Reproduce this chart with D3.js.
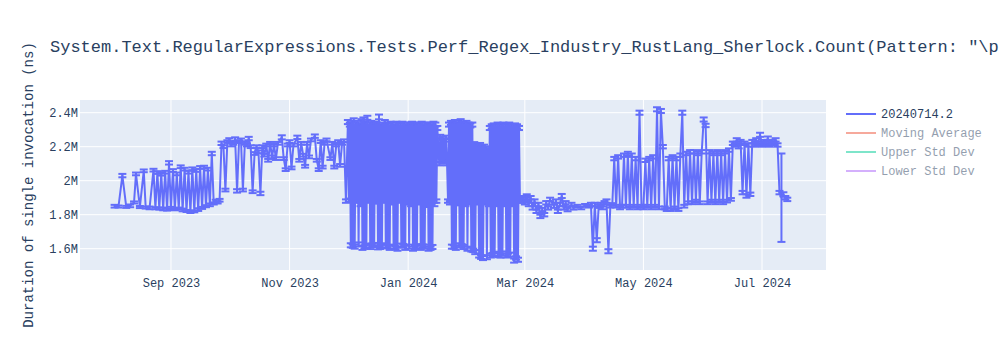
<!DOCTYPE html>
<html>
<head>
<meta charset="utf-8">
<title>Perf_Regex_Industry_RustLang_Sherlock</title>
<script src="https://d3js.org/d3.v7.min.js"></script>
<style>
  body { margin: 0; background: #fff; }
  text { font-family: "Courier New", "Liberation Mono", monospace; }
</style>
</head>
<body>
<div id="canvas"></div>
<script>
// run dates (one per benchmark run; Dec-Feb had two runs a day)
var dates = [
  // Aug 2023
  "2023-08-03","2023-08-05","2023-08-07","2023-08-09","2023-08-11","2023-08-13","2023-08-14","2023-08-16","2023-08-18","2023-08-19",
  "2023-08-21","2023-08-23","2023-08-24","2023-08-25","2023-08-26","2023-08-27","2023-08-28","2023-08-29","2023-08-30","2023-08-31",
  // Sep 2023
  "2023-09-01","2023-09-02","2023-09-03","2023-09-04","2023-09-05","2023-09-06","2023-09-07","2023-09-08","2023-09-09","2023-09-10",
  "2023-09-11","2023-09-12","2023-09-13","2023-09-14","2023-09-15","2023-09-16","2023-09-17","2023-09-18","2023-09-19","2023-09-20",
  "2023-09-21","2023-09-22","2023-09-23","2023-09-24","2023-09-25","2023-09-26","2023-09-27","2023-09-28","2023-09-29","2023-09-30",
  // Oct 2023
  "2023-10-01","2023-10-02","2023-10-03","2023-10-04","2023-10-05","2023-10-06","2023-10-07","2023-10-08","2023-10-09","2023-10-10",
  "2023-10-11","2023-10-12","2023-10-13","2023-10-14","2023-10-15","2023-10-16","2023-10-17","2023-10-18","2023-10-19","2023-10-20",
  "2023-10-21","2023-10-22","2023-10-23","2023-10-24","2023-10-25","2023-10-26","2023-10-28","2023-10-29","2023-10-30","2023-10-31",
  // Nov 2023
  "2023-11-01","2023-11-02","2023-11-03","2023-11-05","2023-11-06","2023-11-07","2023-11-08","2023-11-09","2023-11-10","2023-11-11",
  "2023-11-12","2023-11-14","2023-11-15","2023-11-16","2023-11-17","2023-11-18","2023-11-19","2023-11-20","2023-11-22","2023-11-23",
  "2023-11-24","2023-11-25","2023-11-26","2023-11-27","2023-11-28","2023-11-29","2023-11-30",
  // Dec 2023
  "2023-12-01 00","2023-12-01 12","2023-12-02 00","2023-12-02 12","2023-12-03 00","2023-12-03 12","2023-12-04 00","2023-12-04 12","2023-12-05 00","2023-12-05 12",
  "2023-12-06 00","2023-12-06 12","2023-12-07 00","2023-12-07 12","2023-12-08 00","2023-12-08 12","2023-12-09 00","2023-12-09 12","2023-12-10 00","2023-12-10 12",
  "2023-12-11 00","2023-12-11 12","2023-12-12 00","2023-12-12 12","2023-12-13 00","2023-12-13 12","2023-12-14 00","2023-12-14 12","2023-12-15 00","2023-12-15 12",
  "2023-12-16 00","2023-12-16 12","2023-12-17 00","2023-12-17 12","2023-12-18 00","2023-12-18 12","2023-12-19 00","2023-12-19 12","2023-12-20 00","2023-12-20 12",
  "2023-12-21 00","2023-12-21 12","2023-12-22 00","2023-12-22 12","2023-12-23 00","2023-12-23 12","2023-12-24 00","2023-12-24 12","2023-12-25 00","2023-12-25 12",
  "2023-12-26 00","2023-12-26 12","2023-12-27 00","2023-12-27 12","2023-12-28 00","2023-12-28 12","2023-12-29 00","2023-12-29 12","2023-12-30 00","2023-12-30 12",
  "2023-12-31 00","2023-12-31 12",
  // Jan 2024
  "2024-01-01 00","2024-01-01 12","2024-01-02 00","2024-01-02 12","2024-01-03 00","2024-01-03 12","2024-01-04 00","2024-01-04 12","2024-01-05 00","2024-01-05 12",
  "2024-01-06 00","2024-01-06 12","2024-01-07 00","2024-01-07 12","2024-01-08 00","2024-01-08 12","2024-01-09 00","2024-01-09 12","2024-01-10 00","2024-01-10 12",
  "2024-01-11 00","2024-01-11 12","2024-01-12 00","2024-01-12 12","2024-01-13 00","2024-01-13 12","2024-01-14 00","2024-01-14 12","2024-01-15 00","2024-01-15 12",
  "2024-01-16 00","2024-01-16 12","2024-01-17 00","2024-01-17 12","2024-01-18 00","2024-01-18 12","2024-01-19 00","2024-01-19 12","2024-01-20 00","2024-01-20 12",
  "2024-01-21 00","2024-01-21 12","2024-01-22 00","2024-01-22 12","2024-01-23 00","2024-01-23 12","2024-01-24 00","2024-01-24 12","2024-01-25 00","2024-01-25 12",
  "2024-01-26 00","2024-01-26 12","2024-01-27 00","2024-01-27 12","2024-01-28 00","2024-01-28 12","2024-01-29 00","2024-01-29 12","2024-01-30 00","2024-01-30 12",
  "2024-01-31 00","2024-01-31 12",
  // Feb 2024
  "2024-02-01 00","2024-02-01 12","2024-02-02 00","2024-02-02 12","2024-02-03 00","2024-02-03 12","2024-02-04 00","2024-02-04 12","2024-02-05 00","2024-02-05 12",
  "2024-02-06 00","2024-02-06 12","2024-02-07 00","2024-02-07 12","2024-02-08 00","2024-02-08 12","2024-02-09 00","2024-02-09 12","2024-02-10 00","2024-02-10 12",
  "2024-02-11 00","2024-02-11 12","2024-02-12 00","2024-02-12 12","2024-02-13 00","2024-02-13 12","2024-02-14 00","2024-02-14 12","2024-02-15 00","2024-02-15 12",
  "2024-02-16 00","2024-02-16 12","2024-02-17 00","2024-02-17 12","2024-02-18 00","2024-02-18 12","2024-02-19 00","2024-02-19 12","2024-02-20 00","2024-02-20 12",
  "2024-02-21 00","2024-02-21 12","2024-02-22 00","2024-02-22 12","2024-02-23 00","2024-02-23 12","2024-02-24 00","2024-02-24 12","2024-02-25 00","2024-02-25 12",
  "2024-02-26 00","2024-02-26 12","2024-02-27 00","2024-02-27 12","2024-02-28 00","2024-02-28 12","2024-02-29",
  // Mar 2024
  "2024-03-01","2024-03-02","2024-03-03","2024-03-04","2024-03-05","2024-03-06","2024-03-07","2024-03-08","2024-03-09","2024-03-10",
  "2024-03-11","2024-03-12","2024-03-13","2024-03-14","2024-03-16","2024-03-17","2024-03-18","2024-03-19","2024-03-20","2024-03-21",
  "2024-03-22","2024-03-23","2024-03-25","2024-03-26","2024-03-28","2024-03-30",
  // Apr 2024
  "2024-04-01","2024-04-03","2024-04-04","2024-04-05","2024-04-06","2024-04-07","2024-04-08","2024-04-09","2024-04-10","2024-04-11",
  "2024-04-12","2024-04-13","2024-04-14","2024-04-15","2024-04-16","2024-04-17","2024-04-18","2024-04-19","2024-04-20","2024-04-21",
  "2024-04-22","2024-04-23","2024-04-24","2024-04-25","2024-04-26","2024-04-27","2024-04-28","2024-04-29","2024-04-30",
  // May 2024
  "2024-05-01","2024-05-02","2024-05-03","2024-05-04","2024-05-05","2024-05-06","2024-05-07","2024-05-08","2024-05-09","2024-05-10",
  "2024-05-11","2024-05-12","2024-05-13","2024-05-14","2024-05-15","2024-05-16","2024-05-17","2024-05-18","2024-05-19","2024-05-20",
  "2024-05-21","2024-05-22","2024-05-23","2024-05-24","2024-05-25","2024-05-26","2024-05-27","2024-05-28","2024-05-29","2024-05-30",
  "2024-05-31",
  // Jun 2024
  "2024-06-01","2024-06-02","2024-06-03","2024-06-04","2024-06-05","2024-06-06","2024-06-07","2024-06-08","2024-06-09","2024-06-10",
  "2024-06-11","2024-06-12","2024-06-13","2024-06-14","2024-06-15","2024-06-16","2024-06-17","2024-06-18","2024-06-19","2024-06-20",
  "2024-06-21","2024-06-22","2024-06-23","2024-06-24","2024-06-25","2024-06-26","2024-06-27","2024-06-28","2024-06-29","2024-06-30",
  // Jul 2024
  "2024-07-01","2024-07-02","2024-07-03","2024-07-04","2024-07-05","2024-07-06","2024-07-07","2024-07-08","2024-07-09","2024-07-10",
  "2024-07-11","2024-07-12","2024-07-13","2024-07-14"
];

// mean duration of a single invocation (ns)
var values = [
  // Aug 2023
  1850e3,1848e3,2030e3,1846e3,1852e3,1872e3,2040e3,1845e3,2058e3,1842e3,
  1840e3,2062e3,1838e3,2048e3,1836e3,2040e3,1834e3,2050e3,1830e3,2105e3,
  // Sep 2023
  1838e3,2060e3,1832e3,2040e3,1836e3,2082e3,1828e3,2068e3,1822e3,2050e3,
  1816e3,2070e3,1820e3,2060e3,1830e3,2078e3,1840e3,2080e3,1850e3,2068e3,
  1858e3,2160e3,1866e3,1880e3,1872e3,1885e3,2220e3,2200e3,1945e3,2230e3,
  // Oct 2023
  2240e3,2210e3,2220e3,2245e3,1940e3,2230e3,2240e3,1945e3,2220e3,2210e3,
  2248e3,2200e3,1935e3,2160e3,2200e3,2170e3,1925e3,2200e3,2150e3,2210e3,
  2120e3,2220e3,2140e3,2210e3,2130e3,2220e3,2255e3,2130e3,2065e3,2210e3,
  // Nov 2023
  2230e3,2075e3,2210e3,2255e3,2120e3,2220e3,2150e3,2085e3,2220e3,2140e3,
  2240e3,2262e3,2120e3,2065e3,2230e3,2080e3,2220e3,2240e3,2130e3,2220e3,
  2080e3,2210e3,2230e3,2090e3,2220e3,2235e3,1880e3,
  // Dec 2023
  2345e3,1885e3,2330e3,1620e3,2340e3,1615e3,2355e3,1612e3,2330e3,1880e3,
  2340e3,1625e3,2320e3,1860e3,2350e3,1605e3,2360e3,1610e3,2335e3,1618e3,
  2370e3,1880e3,2330e3,1610e3,2340e3,1620e3,2325e3,1622e3,2335e3,1875e3,
  2330e3,1608e3,2375e3,1608e3,2320e3,1615e3,2330e3,1880e3,2345e3,1620e3,
  2330e3,1612e3,2325e3,1605e3,2335e3,1870e3,2330e3,1612e3,2320e3,1605e3,
  2335e3,1600e3,2330e3,1880e3,2325e3,1618e3,2335e3,1618e3,2330e3,1605e3,
  2320e3,1870e3,
  // Jan 2024
  2330e3,1612e3,2325e3,1860e3,2335e3,1600e3,2320e3,1608e3,2330e3,1615e3,
  2325e3,1870e3,2330e3,1605e3,2335e3,1615e3,2320e3,1612e3,2330e3,1855e3,
  2325e3,1600e3,2330e3,1603e3,2320e3,1610e3,2335e3,1860e3,2330e3,1880e3,
  2310e3,2200e3,2100e3,2260e3,2120e3,2250e3,2110e3,2240e3,2130e3,2255e3,
  2100e3,1880e3,2330e3,1870e3,2340e3,1612e3,2335e3,1610e3,2345e3,1605e3,
  2330e3,1865e3,2340e3,1620e3,2350e3,1618e3,2335e3,1610e3,2330e3,1860e3,
  2340e3,1600e3,
  // Feb 2024
  2330e3,1870e3,2325e3,1595e3,2330e3,1590e3,2215e3,1580e3,2205e3,1870e3,
  2200e3,1560e3,2210e3,1550e3,2195e3,1545e3,2200e3,1870e3,2190e3,1550e3,
  2180e3,1860e3,2310e3,1560e3,2320e3,1565e3,2325e3,1570e3,2320e3,1860e3,
  2330e3,1562e3,2320e3,1558e3,2325e3,1572e3,2330e3,1860e3,2320e3,1560e3,
  2325e3,1562e3,2330e3,1565e3,2320e3,1860e3,2320e3,1530e3,2325e3,1545e3,
  2320e3,1535e3,2310e3,1880e3,1880e3,1895e3,1900e3,
  // Mar 2024
  1870e3,1910e3,1860e3,1900e3,1840e3,1880e3,1820e3,1860e3,1790e3,1830e3,
  1800e3,1870e3,1840e3,1890e3,1850e3,1880e3,1820e3,1860e3,1910e3,1840e3,
  1870e3,1830e3,1860e3,1840e3,1850e3,1840e3,
  // Apr 2024
  1855e3,1850e3,1860e3,1600e3,1860e3,1650e3,1850e3,1860e3,1840e3,1870e3,
  1880e3,1585e3,1850e3,1860e3,2130e3,1850e3,2140e3,1840e3,1850e3,2150e3,
  1850e3,2160e3,1840e3,2150e3,1850e3,2130e3,1840e3,2400e3,1850e3,
  // May 2024
  1840e3,2120e3,1850e3,2130e3,1840e3,2140e3,1850e3,2420e3,1840e3,2410e3,
  2200e3,1840e3,1830e3,2130e3,1830e3,2140e3,1840e3,2130e3,1830e3,2150e3,
  2400e3,1850e3,2160e3,1870e3,2170e3,1870e3,2170e3,1880e3,2160e3,1870e3,
  2170e3,
  // Jun 2024
  2360e3,2325e3,1870e3,2170e3,1880e3,2160e3,1870e3,2170e3,1880e3,2160e3,
  1870e3,2170e3,1880e3,2180e3,1890e3,2220e3,2210e3,2240e3,2200e3,2230e3,
  1930e3,2220e3,1910e3,2210e3,1920e3,2230e3,2210e3,2240e3,2220e3,2270e3,
  // Jul 2024
  2210e3,2230e3,2220e3,2250e3,2210e3,2230e3,2220e3,2240e3,2210e3,1930e3,
  1900e3,1920e3,1900e3,1890e3
];

// error bar half-length (ns)
var errors = [
  // Aug 2023
  8e3,6e3,10e3,6e3,8e3,6e3,8e3,6e3,8e3,6e3,
  8e3,8e3,6e3,8e3,6e3,10e3,8e3,8e3,6e3,10e3,
  // Sep 2023
  8e3,8e3,6e3,8e3,6e3,8e3,8e3,8e3,6e3,8e3,
  6e3,8e3,6e3,8e3,8e3,8e3,6e3,8e3,6e3,8e3,
  8e3,10e3,6e3,8e3,6e3,8e3,10e3,8e3,8e3,8e3,
  // Oct 2023
  10e3,8e3,8e3,10e3,10e3,8e3,8e3,8e3,8e3,8e3,
  10e3,8e3,8e3,8e3,8e3,8e3,10e3,8e3,8e3,8e3,
  8e3,8e3,8e3,8e3,8e3,8e3,12e3,8e3,8e3,8e3,
  // Nov 2023
  8e3,8e3,8e3,10e3,8e3,8e3,8e3,8e3,8e3,8e3,
  8e3,10e3,8e3,8e3,8e3,8e3,8e3,8e3,8e3,8e3,
  8e3,8e3,8e3,8e3,8e3,8e3,10e3,
  // Dec 2023
  12e3,10e3,12e3,12e3,12e3,10e3,12e3,12e3,12e3,10e3,
  12e3,12e3,12e3,10e3,12e3,12e3,12e3,10e3,12e3,12e3,
  12e3,10e3,12e3,12e3,12e3,10e3,12e3,12e3,12e3,10e3,
  12e3,12e3,14e3,10e3,12e3,12e3,12e3,10e3,12e3,12e3,
  12e3,10e3,12e3,12e3,12e3,10e3,12e3,12e3,12e3,10e3,
  12e3,12e3,12e3,10e3,12e3,12e3,12e3,10e3,12e3,12e3,
  12e3,10e3,
  // Jan 2024
  12e3,12e3,12e3,10e3,12e3,12e3,12e3,10e3,12e3,12e3,
  12e3,10e3,12e3,12e3,12e3,10e3,12e3,12e3,12e3,10e3,
  12e3,12e3,12e3,10e3,12e3,12e3,12e3,10e3,12e3,10e3,
  12e3,10e3,10e3,10e3,10e3,10e3,10e3,10e3,10e3,10e3,
  10e3,10e3,12e3,10e3,12e3,12e3,12e3,10e3,12e3,12e3,
  12e3,10e3,12e3,12e3,12e3,10e3,12e3,12e3,12e3,10e3,
  12e3,12e3,
  // Feb 2024
  12e3,10e3,12e3,12e3,12e3,10e3,12e3,12e3,12e3,10e3,
  12e3,12e3,12e3,10e3,12e3,12e3,12e3,10e3,12e3,12e3,
  12e3,10e3,12e3,12e3,12e3,10e3,12e3,12e3,12e3,10e3,
  12e3,12e3,12e3,10e3,12e3,12e3,12e3,10e3,12e3,12e3,
  12e3,10e3,12e3,12e3,12e3,10e3,12e3,12e3,12e3,10e3,
  12e3,12e3,12e3,10e3,10e3,10e3,10e3,
  // Mar 2024
  10e3,10e3,10e3,10e3,10e3,10e3,10e3,10e3,10e3,10e3,
  10e3,10e3,10e3,10e3,10e3,10e3,10e3,10e3,12e3,10e3,
  10e3,10e3,10e3,10e3,8e3,8e3,
  // Apr 2024
  8e3,8e3,10e3,12e3,10e3,12e3,10e3,10e3,8e3,10e3,
  10e3,12e3,8e3,8e3,10e3,8e3,10e3,8e3,8e3,10e3,
  8e3,10e3,8e3,10e3,8e3,10e3,8e3,12e3,8e3,
  // May 2024
  8e3,10e3,8e3,10e3,8e3,10e3,8e3,12e3,8e3,12e3,
  10e3,8e3,8e3,10e3,8e3,10e3,8e3,10e3,8e3,10e3,
  12e3,8e3,10e3,8e3,10e3,8e3,10e3,8e3,10e3,8e3,
  10e3,
  // Jun 2024
  12e3,10e3,8e3,10e3,8e3,10e3,8e3,10e3,8e3,10e3,
  8e3,10e3,8e3,10e3,8e3,10e3,10e3,10e3,10e3,10e3,
  10e3,10e3,10e3,10e3,10e3,10e3,10e3,10e3,10e3,12e3,
  // Jul 2024
  10e3,10e3,10e3,10e3,10e3,10e3,10e3,10e3,10e3,10e3,
  260e3,12e3,10e3,10e3
];

var yTicks = [1.6e6, 1.8e6, 2.0e6, 2.2e6, 2.4e6];
var xTicks = ["2023-09-01","2023-11-01","2024-01-01","2024-03-01","2024-05-01","2024-07-01"];
var legendNames = ["20240714.2", "Moving Average", "Upper Std Dev", "Lower Std Dev"];
var legendColors = ["#636efa", "#EF553B", "#00cc96", "#ab63fa"];
var legendVisible = [true, false, false, false];

console.log(dates.length, values.length, errors.length);

var parseDay = d3.timeParse("%Y-%m-%d");
var parseHour = d3.timeParse("%Y-%m-%d %H");
function parseDate(s) { return s.length > 10 ? parseHour(s) : parseDay(s); }

var data = dates.map(function(d, i) {
  return { date: parseDate(d), value: values[i], err: errors[i] };
});

// Canvas parameters
var margin = { left: 80, top: 100 };
var width = 746;
var height = 170;
var fontColor = "#2a3f5f";

var svg = d3.select('#canvas')
  .append('svg')
    .attr('width', 1000)
    .attr('height', 350);

svg.append("defs").append("clipPath").attr("id", "plotclip")
  .append("rect").attr("width", width).attr("height", height);

var g = svg.append("g")
  .attr("transform", `translate(${margin.left},${margin.top})`);

g.append("rect")
  .attr("width", width)
  .attr("height", height)
  .attr("fill", "#e5ecf6");

var x = d3.scaleTime()
  .domain([new Date(2023, 6, 16, 5), new Date(2024, 7, 2, 22)])
  .range([0, width]);

var y = d3.scaleLinear()
  .domain([1474700, 2474700])
  .range([height, 0]);

// grid lines
g.append("g")
  .selectAll("line")
  .data(xTicks.map(parseDay))
  .enter().append("line")
    .attr("x1", function(d) { return x(d); })
    .attr("x2", function(d) { return x(d); })
    .attr("y1", 0).attr("y2", height)
    .attr("stroke", "#fff").attr("stroke-width", 1);

g.append("g")
  .selectAll("line")
  .data(yTicks)
  .enter().append("line")
    .attr("x1", 0).attr("x2", width)
    .attr("y1", function(d) { return y(d); })
    .attr("y2", function(d) { return y(d); })
    .attr("stroke", "#fff").attr("stroke-width", 1);

// axes (labels only, plotly style)
var xAxis = g.append("g")
  .attr("transform", `translate(0,${height})`)
  .call(d3.axisBottom(x).tickValues(xTicks.map(parseDay)).tickFormat(d3.timeFormat("%b %Y")).tickSize(0).tickPadding(8));
xAxis.select(".domain").remove();
xAxis.selectAll("text")
  .attr("font-family", "'Courier New', 'Liberation Mono', monospace")
  .attr("font-size", 12)
  .attr("fill", fontColor);

var yAxis = g.append("g")
  .call(d3.axisLeft(y).tickValues(yTicks).tickFormat(d3.format("~s")).tickSize(0).tickPadding(2));
yAxis.select(".domain").remove();
yAxis.selectAll("text")
  .attr("font-family", "'Courier New', 'Liberation Mono', monospace")
  .attr("font-size", 12)
  .attr("fill", fontColor);

// data: line + error bars
var plot = g.append("g").attr("clip-path", "url(#plotclip)");
var color = "#636efa";

var bars = plot.append("g").selectAll("g")
  .data(data)
  .enter().append("g");
bars.append("line")
  .attr("x1", function(d) { return x(d.date); })
  .attr("x2", function(d) { return x(d.date); })
  .attr("y1", function(d) { return y(d.value - d.err); })
  .attr("y2", function(d) { return y(d.value + d.err); })
  .attr("stroke", color).attr("stroke-width", 2);
bars.append("line")
  .attr("x1", function(d) { return x(d.date) - 4; })
  .attr("x2", function(d) { return x(d.date) + 4; })
  .attr("y1", function(d) { return y(d.value + d.err); })
  .attr("y2", function(d) { return y(d.value + d.err); })
  .attr("stroke", color).attr("stroke-width", 2);
bars.append("line")
  .attr("x1", function(d) { return x(d.date) - 4; })
  .attr("x2", function(d) { return x(d.date) + 4; })
  .attr("y1", function(d) { return y(d.value - d.err); })
  .attr("y2", function(d) { return y(d.value - d.err); })
  .attr("stroke", color).attr("stroke-width", 2);

plot.append("path")
  .datum(data)
  .attr("fill", "none")
  .attr("stroke", color)
  .attr("stroke-width", 2)
  .attr("stroke-linejoin", "round")
  .attr("d", d3.line()
    .x(function(d) { return x(d.date); })
    .y(function(d) { return y(d.value); }));

// title (runs past the right edge, as in the original)
svg.append("text")
  .attr("x", 50)
  .attr("y", 52)
  .attr("font-size", 17)
  .attr("fill", fontColor)
  .text('System.Text.RegularExpressions.Tests.Perf_Regex_Industry_RustLang_Sherlock.Count(Pattern: "\\p{Sm}", Options: None)');

// y axis title
svg.append("text")
  .attr("transform", `translate(33,${margin.top + height / 2}) rotate(-90)`)
  .attr("text-anchor", "middle")
  .attr("font-size", 14)
  .attr("fill", fontColor)
  .text("Duration of single invocation (ns)");

// legend
var legend = svg.append("g").attr("transform", "translate(846,114)");
var items = legend.selectAll("g")
  .data(legendNames)
  .enter().append("g")
    .attr("transform", function(d, i) { return `translate(0,${i * 19})`; })
    .attr("opacity", function(d, i) { return legendVisible[i] ? 1 : 0.5; });
items.append("line")
  .attr("x1", 0).attr("x2", 30)
  .attr("stroke", function(d, i) { return legendColors[i]; })
  .attr("stroke-width", 2);
items.append("text")
  .attr("x", 35)
  .attr("y", 4)
  .attr("font-size", 12)
  .attr("fill", fontColor)
  .text(function(d) { return d; });
</script>
</body>
</html>
